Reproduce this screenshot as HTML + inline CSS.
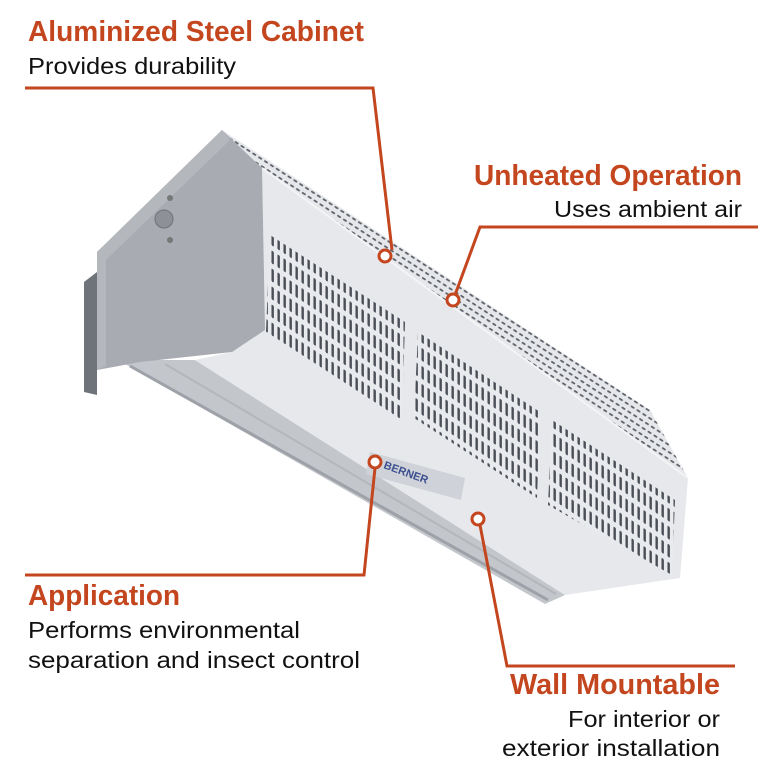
<!DOCTYPE html>
<html><head><meta charset="utf-8"><style>
html,body{margin:0;padding:0;background:#fff;width:770px;height:777px;overflow:hidden}
svg{display:block}
.t{font-family:"Liberation Sans",sans-serif;font-weight:bold;font-size:29px;fill:#c4461f}
.b{font-family:"Liberation Sans",sans-serif;font-size:23px;fill:#111}
</style></head><body>
<svg width="770" height="777" viewBox="0 0 770 777" xmlns="http://www.w3.org/2000/svg">
<defs>
<pattern id="slotA" width="7" height="6" patternUnits="userSpaceOnUse" patternTransform="rotate(33)">
<rect width="7" height="6" fill="#e6e7ea"/><rect x="1" y="2" width="4.5" height="1.8" rx="0.9" fill="#5a5f67"/>
</pattern>
<pattern id="slotB" width="6" height="18" patternUnits="userSpaceOnUse" patternTransform="skewY(33)">
<rect width="6" height="18" fill="#e9eaed"/><rect x="1.5" y="2" width="2.4" height="13" rx="1.2" fill="#4a4f57"/>
</pattern>
</defs>
<polygon points="84,282 97,272 97,395 84,392" fill="#6f737a"/>
<!-- rail -->
<polygon points="118,360 195,360 565,595 545,604" fill="#c3c6cb"/>
<line x1="130" y1="366" x2="548" y2="600" stroke="#9ea2a8" stroke-width="3"/>
<line x1="165" y1="364" x2="556" y2="594" stroke="#b3b6bb" stroke-width="2"/>
<!-- top face -->
<polygon points="222,130 262,168 688,478 650,410" fill="url(#slotA)"/>
<!-- front face -->
<polygon points="262,168 688,478 680,578 565,595 195,360 232,352" fill="#e7e8eb"/>
<line x1="262" y1="168" x2="688" y2="478" stroke="#f4f4f6" stroke-width="2"/>
<polygon points="270,235 405,322 402,420 266,332" fill="url(#slotB)"/>
<polygon points="418,332 540,412 537,498 414,418" fill="url(#slotB)"/>
<polygon points="552,420 675,500 672,575 548,505" fill="url(#slotB)"/>
<!-- end cap -->
<polygon points="97,252 222,130 262,168 265,330 232,352 140,362 97,370" fill="#a8abb1"/>
<polygon points="97,252 222,130 230,140 106,260 106,366 97,370" fill="#b4b7bc"/>
<circle cx="164" cy="219" r="9" fill="#8d9096" stroke="#6f7278"/>
<circle cx="170" cy="198" r="3" fill="#777"/><circle cx="170" cy="240" r="3" fill="#777"/>
<!-- label plate -->
<polygon points="370,452 465,478 461,500 366,474" fill="#cfd2d8"/>
<text x="383" y="468" font-family="Liberation Sans" font-size="11" font-weight="bold" fill="#3b4f8f" transform="rotate(20 383 468)">BERNER</text>
<g fill="none" stroke="#c4461f" stroke-width="3">
<polyline points="25,88 373,88 392,250"/>
<polyline points="758,227 480,227 455,295"/>
<polyline points="25,575 364,575 375,468"/>
<polyline points="735,666 507,666 480,525"/>
</g>
<g fill="#fff" stroke="#c4461f" stroke-width="3">
<circle cx="385" cy="256" r="6"/><circle cx="453" cy="300" r="6"/>
<circle cx="375" cy="462" r="6"/><circle cx="478" cy="519" r="6"/>
</g>
<text class="t" x="28" y="41" textLength="336" lengthAdjust="spacingAndGlyphs">Aluminized Steel Cabinet</text>
<text class="b" x="28" y="74" textLength="208" lengthAdjust="spacingAndGlyphs">Provides durability</text>
<text class="t" x="742" y="185" text-anchor="end" textLength="268" lengthAdjust="spacingAndGlyphs">Unheated Operation</text>
<text class="b" x="742" y="217" text-anchor="end" textLength="188" lengthAdjust="spacingAndGlyphs">Uses ambient air</text>
<text class="t" x="28" y="605" textLength="152" lengthAdjust="spacingAndGlyphs">Application</text>
<text class="b" x="28" y="638" textLength="272" lengthAdjust="spacingAndGlyphs">Performs environmental</text>
<text class="b" x="28" y="668" textLength="332" lengthAdjust="spacingAndGlyphs">separation and insect control</text>
<text class="t" x="720" y="694" text-anchor="end" textLength="210" lengthAdjust="spacingAndGlyphs">Wall Mountable</text>
<text class="b" x="720" y="727" text-anchor="end" textLength="152" lengthAdjust="spacingAndGlyphs">For interior or</text>
<text class="b" x="720" y="756" text-anchor="end" textLength="218" lengthAdjust="spacingAndGlyphs">exterior installation</text>
</svg>
</body></html>
